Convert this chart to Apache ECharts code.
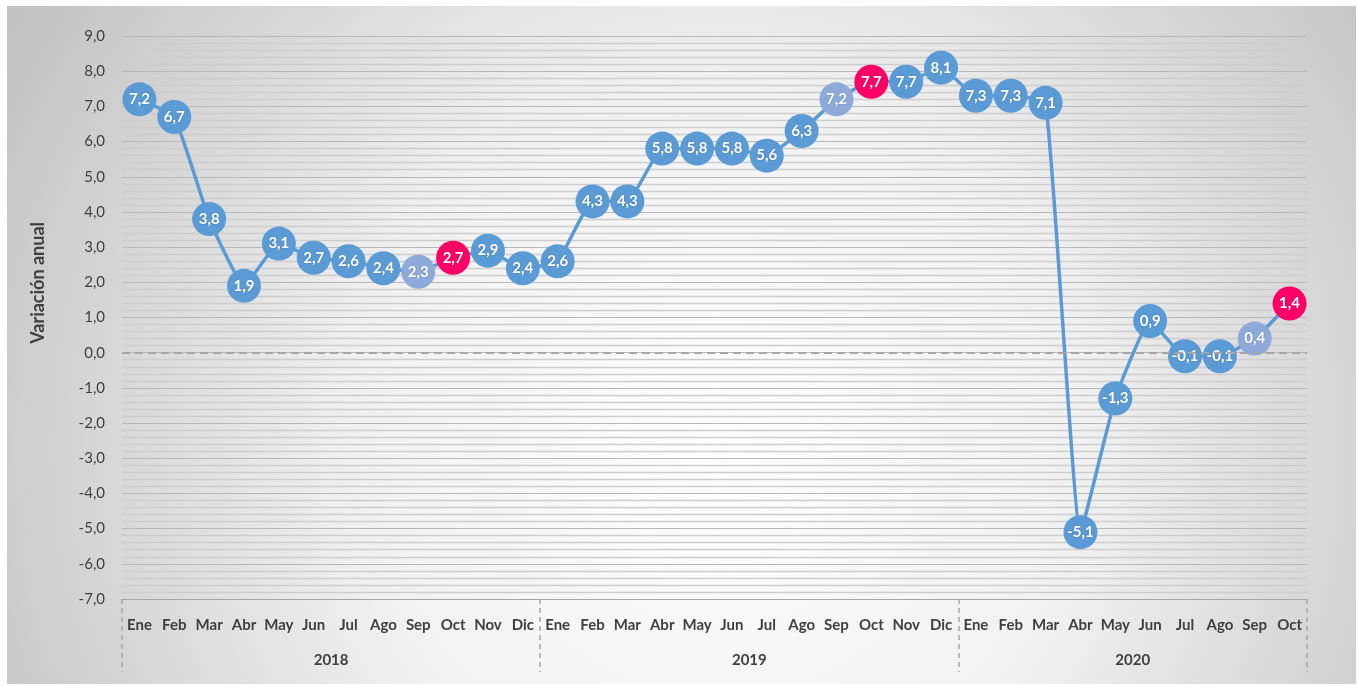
<!DOCTYPE html>
<html>
<head>
<meta charset="utf-8">
<script src="https://cdn.jsdelivr.net/npm/echarts@6/dist/echarts.min.js"></script>
<style>
  html, body { margin: 0; padding: 0; background: #fff; }
  #chart { width: 1358px; height: 686px; }
</style>
</head>
<body>
<div id="chart"></div>
<script>
const months = ['Ene', 'Feb', 'Mar', 'Abr', 'May', 'Jun', 'Jul', 'Ago', 'Sep', 'Oct', 'Nov', 'Dic'];
const years = ['2018', '2019', '2020'];
const yearLengths = [12, 12, 10];
const values2018 = [7.2, 6.7, 3.8, 1.9, 3.1, 2.7, 2.6, 2.4, 2.3, 2.7, 2.9, 2.4];
const values2019 = [2.6, 4.3, 4.3, 5.8, 5.8, 5.8, 5.6, 6.3, 7.2, 7.7, 7.7, 8.1];
const values2020 = [7.3, 7.3, 7.1, -5.1, -1.3, 0.9, -0.1, -0.1, 0.4, 1.4];
const yTicks = { min: -7, max: 9, interval: 1 };

const colors = { normal: '#5b9bd5', sep: '#8eaadb', oct: '#ff0066' };

// build the 34 category labels and point list
const categories = [];
const allValues = [values2018, values2019, values2020];
const points = [];
yearLengths.forEach((n, yi) => {
  for (let i = 0; i < n; i++) {
    categories.push(months[i]);
    let c = colors.normal;
    if (months[i] === 'Sep') c = colors.sep;
    if (months[i] === 'Oct') c = colors.oct;
    points.push({ value: allValues[yi][i], itemStyle: { color: c } });
  }
});

// boundaries and centers of year groups on a 0..34 value axis
const bounds = [0];
yearLengths.forEach(n => bounds.push(bounds[bounds.length - 1] + n));
const centers = years.map((y, i) => (bounds[i] + bounds[i + 1]) / 2);

const fmt = v => v.toFixed(1).replace('.', ',');

const chart = echarts.init(document.getElementById('chart'));
chart.setOption({
  animation: false,
  textStyle: { fontFamily: 'Lato, "Open Sans", sans-serif' },
  graphic: [
    {
      type: 'rect',
      z: -100,
      silent: true,
      shape: { x: 7, y: 6, width: 1349, height: 678 },
      style: {
        fill: new echarts.graphic.RadialGradient(720, 450, 820, [
          { offset: 0, color: '#ffffff' },
          { offset: 0.45, color: '#f1f1f1' },
          { offset: 1, color: '#c2c2c2' }
        ], true)
      }
    },
    {
      type: 'text',
      left: 29,
      top: 222,
      rotation: Math.PI / 2,
      style: {
        text: 'Variación anual',
        font: 'bold 18px Lato, "Open Sans", sans-serif',
        fill: '#404040'
      }
    }
  ],
  grid: { left: 122, right: 51, top: 36, bottom: 87 },
  xAxis: [
    {
      type: 'category',
      data: categories,
      boundaryGap: true,
      axisLine: { show: false },
      axisTick: { show: false },
      axisLabel: {
        interval: 0,
        margin: 19,
        color: '#404040',
        fontWeight: 'bold',
        fontSize: 15
      }
    },
    {
      type: 'value',
      min: 0,
      max: bounds[bounds.length - 1],
      position: 'bottom',
      axisLine: { show: true, lineStyle: { color: '#a6a6a6', width: 1 } },
      splitLine: { show: false },
      axisTick: {
        show: true,
        customValues: bounds,
        length: 73,
        lineStyle: { color: '#a6a6a6', type: [5, 4], width: 1.5 }
      },
      axisLabel: {
        customValues: centers,
        margin: 54,
        color: '#404040',
        fontWeight: 'bold',
        fontSize: 15,
        formatter: v => years[centers.indexOf(v)] || ''
      }
    }
  ],
  yAxis: {
    type: 'value',
    min: yTicks.min,
    max: yTicks.max,
    interval: yTicks.interval,
    axisLine: { show: false },
    axisTick: { show: false },
    axisLabel: {
      margin: 17,
      color: '#404040',
      fontSize: 15,
      formatter: v => fmt(v)
    },
    splitLine: { show: true, lineStyle: { color: '#b8b8b8', width: 1 } },
    minorTick: { show: false, splitNumber: 5 },
    minorSplitLine: { show: true, lineStyle: { color: '#cdcdcd', width: 1.3 } }
  },
  series: [
    {
      type: 'line',
      xAxisIndex: 0,
      data: points,
      smooth: 0.12,
      symbol: 'circle',
      symbolSize: 34,
      lineStyle: { color: colors.normal, width: 3.5 },
      itemStyle: { color: colors.normal },
      label: {
        show: true,
        position: 'inside',
        color: '#fff',
        fontWeight: 'bold',
        fontSize: 15,
        formatter: p => fmt(p.value),
        textShadowColor: 'rgba(0,0,0,0.25)',
        textShadowBlur: 2
      },
      markLine: {
        silent: true,
        symbol: 'none',
        label: { show: false },
        lineStyle: { color: '#a6a6a6', type: [8, 5], width: 2 },
        data: [{ yAxis: 0 }]
      }
    }
  ]
});
</script>
</body>
</html>
